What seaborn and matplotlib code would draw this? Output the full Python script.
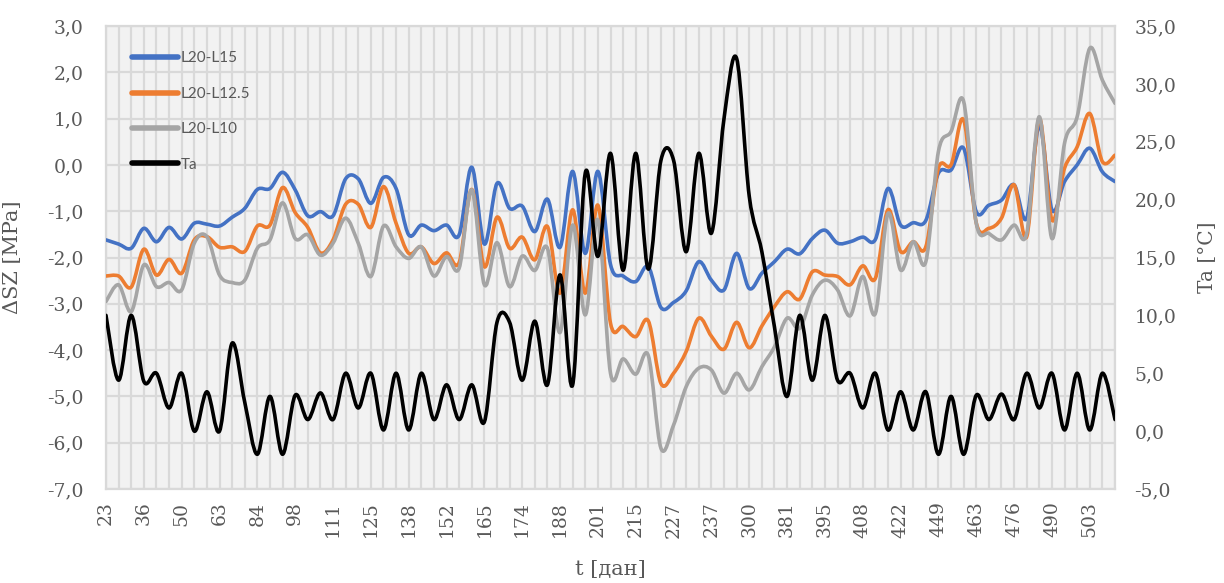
import numpy as np
import pandas as pd
import seaborn as sns
import matplotlib
matplotlib.use("Agg")
import matplotlib.pyplot as plt
from matplotlib.path import Path
from matplotlib.patches import PathPatch
from matplotlib.lines import Line2D
from matplotlib.ticker import FuncFormatter, FixedLocator, MultipleLocator

# Day labels shown on the category axis (every third measurement)
day_labels = ["23", "36", "50", "63", "84", "98", "111", "125", "138", "152",
              "165", "174", "188", "201", "215", "227", "237", "300", "381",
              "395", "408", "422", "449", "463", "476", "490", "503"]

# Stress differences [MPa]
l20_l15 = [-1.62, -1.71, -1.80, -1.37, -1.66, -1.35, -1.60, -1.26, -1.28, -1.32,
           -1.13, -0.94, -0.53, -0.51, -0.16, -0.54, -1.10, -1.01, -1.10, -0.30,
           -0.30, -0.83, -0.27, -0.51, -1.51, -1.30, -1.42, -1.30, -1.51, -0.05,
           -1.71, -0.40, -0.94, -0.89, -1.44, -0.74, -1.78, -0.14, -1.91, -0.14,
           -2.15, -2.40, -2.52, -2.20, -3.08, -2.97, -2.72, -2.09, -2.49, -2.70,
           -1.91, -2.67, -2.34, -2.09, -1.82, -1.92, -1.59, -1.41, -1.69, -1.66,
           -1.56, -1.61, -0.51, -1.30, -1.25, -1.20, -0.18, -0.11, 0.36, -1.01,
           -0.87, -0.76, -0.43, -1.15, 0.86, -0.97, -0.36, 0.00, 0.36, -0.15,
           -0.36]
l20_l125 = [-2.40, -2.40, -2.64, -1.82, -2.38, -2.04, -2.34, -1.62, -1.55, -1.78,
            -1.77, -1.87, -1.32, -1.30, -0.49, -1.03, -1.35, -1.90, -1.62, -0.85,
            -0.85, -1.35, -0.47, -1.26, -1.91, -1.77, -2.13, -1.90, -2.11, -0.53,
            -2.20, -1.13, -1.80, -1.56, -2.05, -1.33, -2.77, -0.97, -2.77, -0.87,
            -3.42, -3.49, -3.71, -3.37, -4.72, -4.50, -4.03, -3.31, -3.70, -3.98,
            -3.40, -3.95, -3.48, -3.06, -2.74, -2.90, -2.31, -2.38, -2.41, -2.59,
            -2.18, -2.45, -0.97, -1.87, -1.66, -1.77, -0.07, 0.00, 0.97, -1.25,
            -1.37, -1.15, -0.43, -1.55, 1.00, -1.19, -0.07, 0.39, 1.11, 0.07,
            0.21]
l20_l10 = [-2.95, -2.59, -3.17, -2.16, -2.63, -2.54, -2.70, -1.69, -1.55, -2.38,
           -2.54, -2.49, -1.80, -1.62, -0.82, -1.59, -1.51, -1.95, -1.69, -1.15,
           -1.69, -2.41, -1.32, -1.77, -2.02, -1.77, -2.40, -1.98, -2.23, -0.54,
           -2.59, -1.68, -2.63, -1.97, -2.28, -1.80, -3.62, -1.30, -3.24, -1.19,
           -4.50, -4.19, -4.52, -4.12, -6.12, -5.62, -4.79, -4.39, -4.43, -4.93,
           -4.50, -4.86, -4.36, -3.93, -3.31, -3.53, -2.81, -2.49, -2.70, -3.26,
           -2.41, -3.21, -1.05, -2.27, -1.66, -2.09, 0.29, 0.72, 1.37, -1.26,
           -1.48, -1.62, -1.30, -1.48, 1.04, -1.59, 0.47, 1.04, 2.52, 1.83,
           1.33]
# Air temperature [°C]
ta = [10.0, 4.4, 10.0, 4.3, 5.0, 2.0, 5.0, 0.0, 3.4, 0.0,
      7.6, 2.5, -2.0, 3.0, -2.0, 3.1, 1.0, 3.3, 1.0, 5.0,
      2.0, 5.0, 0.1, 5.0, 0.1, 5.0, 1.0, 4.0, 1.0, 4.0,
      0.8, 9.4, 9.4, 4.4, 9.5, 4.0, 13.5, 4.0, 22.3, 15.1,
      24.0, 13.9, 24.0, 14.0, 23.4, 23.4, 15.5, 24.0, 17.1, 27.0,
      32.2, 20.3, 15.5, 9.0, 3.0, 10.0, 4.4, 10.0, 4.4, 5.0,
      2.0, 5.0, 0.1, 3.4, 0.1, 3.4, -2.0, 3.0, -2.0, 3.1,
      1.0, 3.2, 1.0, 5.0, 2.0, 5.0, 0.1, 5.0, 0.1, 5.0,
      1.0]

series_names = ["L20-L15", "L20-L12.5", "L20-L10"]
series_colors = ["#4472C4", "#ED7D31", "#A5A5A5"]
ta_color = "#000000"

df = pd.DataFrame({"idx": np.arange(len(ta)),
                   "L20-L15": l20_l15, "L20-L12.5": l20_l125,
                   "L20-L10": l20_l10, "Ta": ta})

sns.set_theme(style="white")
plt.rcParams["font.family"] = ["DejaVu Serif"]

text_grey = "#595959"
grid_grey = "#D9D9D9"
LW = 2.6


def smooth_path(x, y):
    """Bezier path through the points (Catmull-Rom tangents)."""
    pts = np.column_stack([np.asarray(x, float), np.asarray(y, float)])
    n = len(pts)
    verts = [pts[0]]
    codes = [Path.MOVETO]
    for i in range(n - 1):
        p0 = pts[i - 1] if i > 0 else pts[i]
        p1 = pts[i]
        p2 = pts[i + 1]
        p3 = pts[i + 2] if i + 2 < n else pts[i + 1]
        verts += [p1 + (p2 - p0) / 6.0, p2 - (p3 - p1) / 6.0, p2]
        codes += [Path.CURVE4] * 3
    return Path(verts, codes)


fig = plt.figure(figsize=(12.24, 5.83), dpi=100)
ax = fig.add_axes([106 / 1224, 1 - 489 / 583, 1009 / 1224, 463 / 583])
ax.set_facecolor("#F2F2F2")

for name, col in zip(series_names, series_colors):
    ax.add_patch(PathPatch(smooth_path(df["idx"], df[name]), facecolor="none",
                           edgecolor=col, lw=LW, capstyle="round",
                           joinstyle="round", zorder=3))

ax.set_xlim(0, len(ta) - 1)
ax.set_ylim(-7, 3)
ax.yaxis.set_major_locator(MultipleLocator(1))
ax.yaxis.set_major_formatter(FuncFormatter(lambda v, p: f"{v:.1f}".replace(".", ",")))
ax.xaxis.set_major_locator(FixedLocator(np.arange(0, len(ta), 3)))
ax.set_xticklabels(day_labels, rotation=90)
ax.xaxis.set_minor_locator(MultipleLocator(1))
ax.grid(True, which="both", axis="x", color=grid_grey, lw=1.6)
ax.grid(True, which="major", axis="y", color=grid_grey, lw=1.6)
ax.set_axisbelow(True)
for s in ax.spines.values():
    s.set_color(grid_grey)
    s.set_linewidth(1.6)
ax.tick_params(axis="both", which="both", length=0, colors=text_grey,
               labelsize=13.5)
ax.tick_params(axis="x", pad=9)
ax.tick_params(axis="y", pad=16)

ax2 = ax.twinx()
ax2.add_patch(PathPatch(smooth_path(df["idx"], df["Ta"]), facecolor="none",
                        edgecolor=ta_color, lw=LW, capstyle="round",
                        joinstyle="round", zorder=3))
ax2.set_ylim(-5, 35)
ax2.yaxis.set_major_locator(MultipleLocator(5))
ax2.yaxis.set_major_formatter(FuncFormatter(lambda v, p: f"{v:.1f}".replace(".", ",")))
ax2.tick_params(axis="y", length=0, colors=text_grey, labelsize=13.5, pad=14)
ax2.grid(False)
for s in ax2.spines.values():
    s.set_visible(False)

ax.set_ylabel("ΔSZ [MPa]", fontsize=15, color=text_grey)
ax.yaxis.set_label_coords(-0.083, 0.5)
ax.set_xlabel("")
ax2.set_ylabel("")

# Axis titles placed in figure pixels
fig.text(1208 / 1224, 1 - 257 / 583, "Ta [°C]", fontsize=14.5, color=text_grey,
         rotation=90, ha="center", va="center")
fig.text(610 / 1224, 1 - 569 / 583, "t [дан]", fontsize=15, color=text_grey,
         ha="center", va="center")

handles = [Line2D([], [], color=c, lw=4, solid_capstyle="round")
           for c in series_colors + [ta_color]]
leg = ax2.legend(handles, series_names + ["Ta"], loc="upper left",
                 bbox_to_anchor=(0.026, 0.945), frameon=False, borderpad=0,
                 borderaxespad=0, handlelength=3.0, handletextpad=0.15,
                 labelspacing=1.4,
                 prop={"family": "Lato", "size": 11})
for t in leg.get_texts():
    t.set_color(text_grey)

fig.savefig("out.png", dpi=100)
